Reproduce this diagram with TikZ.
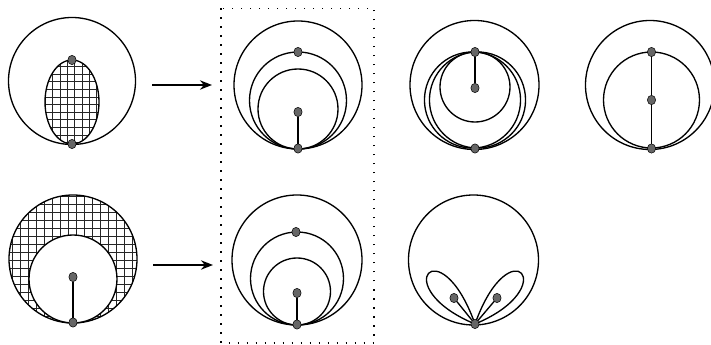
\documentclass[tikz,border=0pt]{standalone}
\usepackage{tikz}
\usetikzlibrary{arrows.meta, shapes.geometric, positioning}

\tikzset{
  curve/.style={line width=1pt},
  hatch/.style={line width=0.6pt, black!85},
  knot/.style={ellipse, draw=black, line width=0.4pt, fill=black!60,
    minimum width=6.2pt, minimum height=7pt, inner sep=0pt},
  stem/.style={line width=1pt},
  move/.style={-{Stealth[length=9pt,width=7pt]}, line width=1.3pt},
  frame/.style={line width=1.1pt, dash pattern=on 1.1pt off 5.65pt}
}

\begin{document}
\begin{tikzpicture}[x=0.75pt, y=-0.75pt]
    \useasboundingbox (0,0) rectangle (711,345);

    % Top left: hatched lens in the disc
    \begin{scope}
        \clip (72,102) ellipse (27 and 42);
        \foreach \x in {45.4,52.7,...,100} \draw[hatch] (\x,55) -- (\x,150);
        \foreach \y in {59,66.6,...,147} \draw[hatch] (40,\y) -- (105,\y);
    \end{scope}
    \draw[curve] (72,81) circle (63.5);
    \draw[curve] (72,102) ellipse (27 and 42);
    \node[knot] (lensTop) at (72,60) {};
    \node[knot] (lensBot) at (72,144) {};

    % Bottom left: hatched ring
    \begin{scope}
        \clip (73,259) circle (64);
        \foreach \x in {4,12,...,140} \draw[hatch] (\x,190) -- (\x,330);
        \foreach \y in {196,204,...,330} \draw[hatch] (5,\y) -- (141,\y);
    \end{scope}
    \fill[white] (73,279) circle (44);
    \draw[curve] (73,259) circle (64);
    \draw[curve] (73,279) circle (44);
    \node[knot] (ringMid) at (73,277) {};
    \node[knot] (ringBot) at (73,322.5) {};
    \draw[stem] (ringMid) -- (ringBot);

    % Arrows
    \coordinate (fromA) at (152,85);
    \coordinate (toA) at (212,85);
    \coordinate (fromB) at (153,265);
    \coordinate (toB) at (213,265);
    \draw[move] (fromA) -- (toA);
    \draw[move] (fromB) -- (toB);

    % Dotted frame
    \draw[frame] (221,8.5) rectangle (374,343);

    % Framed, top
    \draw[curve] (298,85) circle (64);
    \draw[curve] (298,100.5) circle (48.5);
    \draw[curve] (298,109) circle (40);
    \node[knot] (upTop) at (298,52) {};
    \node[knot] (upMid) at (298,112) {};
    \node[knot] (upBot) at (298,148.5) {};
    \draw[stem] (upMid) -- (upBot);

    % Framed, bottom
    \draw[curve] (297,260) circle (65);
    \draw[curve] (297,278.5) circle (46.5);
    \draw[curve] (297,291.5) circle (33.5);
    \node[knot] (loTop) at (296,232) {};
    \node[knot] (loMid) at (297,293) {};
    \node[knot] (loBot) at (297,324.5) {};
    \draw[stem] (loMid) -- (loBot);

    % Third column, top
    \draw[curve] (474.5,85) circle (64.5);
    \draw[curve] (472.5,100) circle (48.05);
    \draw[curve] (477.5,100) circle (48.05);
    \draw[curve] (475,87) circle (35);
    \node[knot] (twinTop) at (475,52) {};
    \node[knot] (twinMid) at (475,88) {};
    \node[knot] (twinBot) at (475,148.5) {};
    \draw[stem] (twinTop) -- (twinMid);

    % Third column, bottom: two petals
    \draw[curve] (473.5,260) circle (65);
    \coordinate (leafRoot) at (475,324);
    \draw[curve] (leafRoot) .. controls (386,287) and (440,226) .. (leafRoot);
    \draw[curve] (leafRoot) .. controls (564,287) and (510,226) .. (leafRoot);
    \node[knot] (leafBot) at (leafRoot) {};
    \node[knot] (leafL) at (454,298) {};
    \node[knot] (leafR) at (497,298) {};
    \draw[stem] (leafBot) -- (leafL);
    \draw[stem] (leafBot) -- (leafR);

    % Right column
    \draw[curve] (650,85) circle (64.5);
    \draw[curve] (651.5,100) circle (48);
    \node[knot] (axTop) at (651.5,52) {};
    \node[knot] (axMid) at (651.5,100) {};
    \node[knot] (axBot) at (651.5,148.5) {};
    \draw[stem] (axTop) -- (axMid);
    \draw[stem] (axMid) -- (axBot);
\end{tikzpicture}
\end{document}
